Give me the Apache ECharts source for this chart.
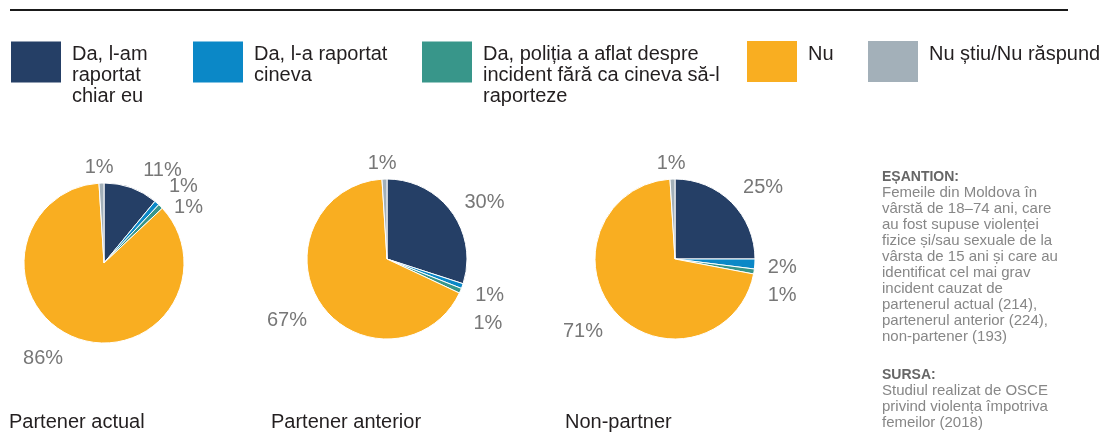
<!DOCTYPE html>
<html>
<head>
<meta charset="utf-8">
<script src="https://cdn.jsdelivr.net/npm/echarts@6/dist/echarts.min.js"></script>
<style>
  html, body { margin: 0; padding: 0; background: #fff; }
  #chart { width: 1110px; height: 448px; }
</style>
</head>
<body>
<div id="chart"></div>
<script>
// categorii (ordinea feliilor, în sensul acelor de ceasornic de la ora 12)
const categories = [
    'Da, l-am raportat chiar eu',
    'Da, l-a raportat cineva',
    'Da, poliția a aflat despre incident fără ca cineva să-l raporteze',
    'Nu',
    'Nu știu/Nu răspund'
];
// textul legendei, rupt pe rânduri ca în original
const legendText = [
    'Da, l-am\nraportat\nchiar eu',
    'Da, l-a raportat\ncineva',
    'Da, poliția a aflat despre\nincident fără ca cineva să-l\nraporteze',
    'Nu',
    'Nu știu/Nu răspund'
];
const colors = ['#253f66', '#0b88c7', '#38968a', '#f9ae21', '#a3b0b9'];

// valori (%)
const partenerActual = [11, 1, 1, 86, 1];
const partenerAnterior = [30, 1, 1, 67, 1];
const nonPartner = [25, 2, 1, 71, 1];
const panelTitles = ['Partener actual', 'Partener anterior', 'Non-partner'];

const FONT = '"Liberation Sans", Arial, sans-serif';

const chart = echarts.init(document.getElementById('chart'), null, { renderer: 'canvas' });

// --- legenda: câte o componentă pentru fiecare categorie ---
// textul legendei e centrat vertical pe pătrat; un rând „spacer” (rich text)
// îl aduce aliniat sus, iar top-ul compensează caseta mai înaltă a textului
const legendLeft = [11, 193, 422, 747, 868];
const LINE_H = 21, ICON_H = 41, ICON_TOP = 41;
const FIRST_LINE = 13; // centrul primului rând față de marginea de sus a pătratului
const legends = categories.map((name, i) => {
    const lines = legendText[i].split('\n');
    const n = lines.length;
    // centrul primului rând fără spacer: ICON_H/2 - LINE_H*n/2 + LINE_H/2
    const base = ICON_H / 2 - LINE_H * n / 2 + LINE_H / 2;
    const diff = FIRST_LINE - base;
    const parts = lines.map(l => '{t|' + l + '}');
    let spacer = 0;
    if (diff > 0) { spacer = 2 * diff; parts.unshift('{s| }'); }
    else if (diff < 0) { spacer = -2 * diff; parts.push('{s| }'); }
    // caseta folosită la așezare (empiric, fără spacer)
    const boxTop = ICON_H / 2 - LINE_H * n / 2;
    return {
        data: [name],
        left: legendLeft[i],
        top: ICON_TOP + Math.min(0, boxTop),
        padding: 0,
        icon: 'rect',
        itemWidth: 50,
        itemHeight: ICON_H,
        selectedMode: false,
        formatter: () => parts.join('\n'),
        itemStyle: { borderWidth: 0 },
        textStyle: {
            fontFamily: FONT,
            fontSize: 20,
            color: '#231f20',
            padding: [0, 0, 0, 6],
            rich: {
                t: { fontFamily: FONT, fontSize: 20, lineHeight: LINE_H, color: '#231f20' },
                s: { fontSize: 1, lineHeight: Math.max(1, spacer) }
            }
        }
    };
});

// --- plăcintele ---
const pieCenters = [[104, 263], [387, 259], [675, 259]];
const pieValues = [partenerActual, partenerAnterior, nonPartner];

// mici ajustări ale etichetelor [dx, dy] față de așezarea automată
const labelNudge = [
    [[3, -6], [-2, -12], [-12, -13], [-2, 10], [3, -4]],
    [[-2, -2], [-3, 5], [-3, 11], [1, 10], [3, -4]],
    [[-2, -6], [1, 3], [5, 9], [2, 12], [4, -4]]
];

const series = pieValues.map((vals, k) => ({
    type: 'pie',
    name: panelTitles[k],
    center: pieCenters[k],
    radius: 80,
    startAngle: 90,
    clockwise: true,
    avoidLabelOverlap: true,
    emphasis: { disabled: true },
    silent: true,
    itemStyle: { borderColor: '#fff', borderWidth: 1 },
    label: {
        show: true,
        position: 'outside',
        formatter: '{c}%',
        fontFamily: FONT,
        fontSize: 20,
        color: '#777777',
        distanceToLabelLine: 5
    },
    labelLine: { show: false, length: 12, length2: 0 },
    labelLayout: function (p) {
        const nd = labelNudge[k][p.dataIndex];
        const out = { dx: nd[0], dy: nd[1] };
        if (p.dataIndex === 4) out.align = 'center';
        return out;
    },
    data: categories.map((name, i) => ({ name: name, value: vals[i] }))
}));

// --- titluri sub plăcinte ---
const titleLeft = [9, 271, 565];
const titles = panelTitles.map((t, k) => ({
    text: t,
    left: titleLeft[k],
    top: 412,
    padding: 0,
    textStyle: { fontFamily: FONT, fontSize: 20, lineHeight: 20, fontWeight: 'normal', color: '#231f20' }
}));

// --- nota din dreapta ---
const noteLines = [
    'Femeile din Moldova în',
    'vârstă de 18–74 ani, care',
    'au fost supuse violenței',
    'fizice și/sau sexuale de la',
    'vârsta de 15 ani și care au',
    'identificat cel mai grav',
    'incident cauzat de',
    'partenerul actual (214),',
    'partenerul anterior (224),',
    'non-partener (193)'
];
const sourceLines = [
    'Studiul realizat de OSCE',
    'privind violența împotriva',
    'femeilor (2018)'
];
const noteText = ['{h|EȘANTION:}']
    .concat(noteLines.map(l => '{b|' + l + '}'))
    .concat(['{gap| }', '{h|SURSA:}'])
    .concat(sourceLines.map(l => '{b|' + l + '}'))
    .join('\n');

titles.push({
    text: noteText,
    left: 882,
    top: 169,
    padding: 0,
    textStyle: {
        fontFamily: FONT,
        fontSize: 15,
        fontWeight: 'normal',
        rich: {
            h: { fontFamily: FONT, fontSize: 14, fontWeight: 'bold', color: '#666666', lineHeight: 16 },
            b: { fontFamily: FONT, fontSize: 15, fontWeight: 'normal', color: '#878787', lineHeight: 16 },
            gap: { fontSize: 4, lineHeight: 22 }
        }
    }
});

chart.setOption({
    animation: false,
    color: colors,
    textStyle: { fontFamily: FONT },
    title: titles,
    legend: legends,
    graphic: [{
        type: 'line',
        shape: { x1: 10, y1: 10, x2: 1068, y2: 10 },
        style: { stroke: '#1a1a1a', lineWidth: 2 }
    }],
    series: series
});
</script>
</body>
</html>
